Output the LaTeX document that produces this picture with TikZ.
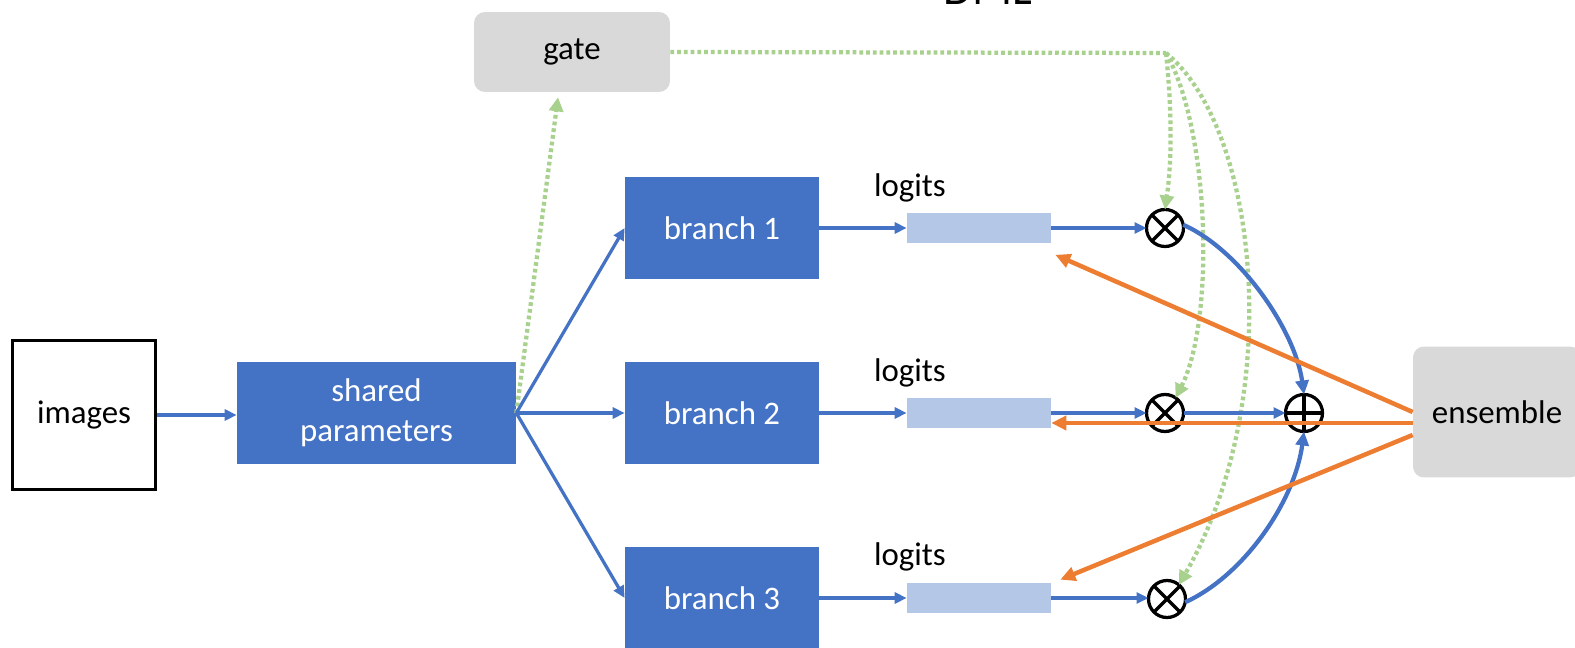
\documentclass[tikz,border=0pt]{standalone}
\usepackage{fontspec}
\setmainfont{Carlito}
\usetikzlibrary{arrows.meta,calc}
\definecolor{dblue}{HTML}{4472C4}
\definecolor{orng}{HTML}{ED7D31}
\definecolor{lgreen}{HTML}{A9D18E}
\definecolor{lgray}{HTML}{D9D9D9}
\definecolor{lblue}{HTML}{B4C7E7}
\begin{document}
\begin{tikzpicture}[x=0.02cm,y=-0.02cm,
  font=\fontsize{18.7}{22.5}\selectfont,
  imgbox/.style={draw=black, line width=0.06cm, fill=white, inner sep=0pt, minimum width=2.88cm, minimum height=3cm},
  bluebox/.style={fill=dblue, text=white, inner sep=0pt, align=center, minimum height=2.04cm},
  graybox/.style={fill=lgray, rounded corners=0.22cm, inner sep=0pt},
  logbox/.style={fill=lblue, inner sep=0pt, minimum width=2.88cm, minimum height=0.62cm},
  lab/.style={inner sep=0pt},
  opnode/.style={circle, draw=black, line width=0.065cm, inner sep=0pt, outer sep=0pt, minimum size=0.74cm},
  opline/.style={draw=black, line width=0.065cm},
  barrow/.style={draw=dblue, line width=0.065cm, -{Triangle[length=0.24cm,width=0.22cm]}},
  bcurve/.style={draw=dblue, line width=0.085cm, -{Triangle[length=0.28cm,width=0.26cm]}},
  oarrow/.style={draw=orng, line width=0.09cm, -{Triangle[length=0.3cm,width=0.28cm]}},
  gdot/.style={draw=lgreen, line width=0.085cm, dash pattern=on 0.075cm off 0.06cm},
  garrow/.style={gdot, -{Triangle[length=0.28cm,width=0.28cm]}}]
\clip (0,0) rectangle (1575,648);
\fill[white] (0,0) rectangle (1575,648);

% title (cut off at top)
\node[font=\fontsize{26.7}{30}\selectfont, anchor=base, inner sep=0pt] (dml) at (987.5,5) {DML};

% boxes
\node[imgbox] (img) at (84,415) {images};
\node[bluebox, minimum width=5.58cm] (sh) at (376.5,413) {shared\\parameters};
\node[bluebox, minimum width=3.88cm] (b1) at (722,228) {branch 1};
\node[bluebox, minimum width=3.88cm] (b2) at (722,413) {branch 2};
\node[bluebox, minimum width=3.88cm] (b3) at (722,598) {branch 3};
\node[graybox, minimum width=3.92cm, minimum height=1.6cm] (gate) at (572,52) {gate};
\node[graybox, minimum width=3.36cm, minimum height=2.62cm] (ens) at (1497,412) {ensemble};

\node[logbox] (l1) at (979,228) {};
\node[logbox] (l2) at (979,413) {};
\node[logbox] (l3) at (979,598) {};
\node[lab] (t1) at (910,188) {logits};
\node[lab] (t2) at (910,373) {logits};
\node[lab] (t3) at (910,557) {logits};

% operators
\node[opnode] (o1) at (1165,228) {};
\node[opnode] (o2) at (1165,413) {};
\node[opnode] (o3) at (1167,599) {};
\node[opnode] (op) at (1304,413) {};
\foreach \o in {o1,o2,o3}{
  \draw[opline] (\o.45) -- (\o.225) (\o.135) -- (\o.-45);
}
\draw[opline] (op.north) -- (op.south) (op.west) -- (op.east);

% green dotted (gate)
\coordinate (gc) at (1166,53);
\draw[garrow] (sh.east) -- ([xshift=-0.28cm,yshift=-0.1cm]gate.south);
\draw[gdot] (gate.east) -- (gc);
\draw[garrow] (gc) .. controls (1172,110) and (1172,160) .. (o1.north);
\draw[garrow] (gc) .. controls (1210,130) and (1215,320) .. (o2.55);
\draw[garrow] (gc) .. controls (1260,130) and (1285,400) .. (o3.50);

% blue flow
\draw[barrow] (img.east) -- (img.east -| sh.west);
\draw[barrow] (sh.east) -- (b1.west);
\draw[barrow] (sh.east) -- (b2.west);
\draw[barrow] (sh.east) -- (b3.west);
\draw[barrow] (b1.east) -- (l1.west);
\draw[barrow] (b2.east) -- (l2.west);
\draw[barrow] (b3.east) -- (l3.west);
\draw[barrow] (l1.east) -- (l1.east -| o1.west);
\draw[barrow] (l2.east) -- (l2.east -| o2.west);
\draw[barrow] (l3.east) -- (l3.east -| o3.west);
\draw[barrow] (o2.east) -- (op.west);
\draw[bcurve] (o1.10) .. controls (1240,250) and (1295,330) .. (op.north);
\draw[bcurve] (o3.-10) .. controls (1245,575) and (1295,500) .. (op.south);

% orange feedback
\draw[oarrow] (ens.west) -- ([xshift=0.08cm,yshift=-0.22cm]l1.south east);
\draw[oarrow] ([yshift=-0.22cm]ens.west) -- ([yshift=-0.2cm]l2.east);
\draw[oarrow] ([yshift=-0.46cm]ens.west) -- ([xshift=0.18cm,yshift=0.05cm]l3.north east);
\end{tikzpicture}
\end{document}
